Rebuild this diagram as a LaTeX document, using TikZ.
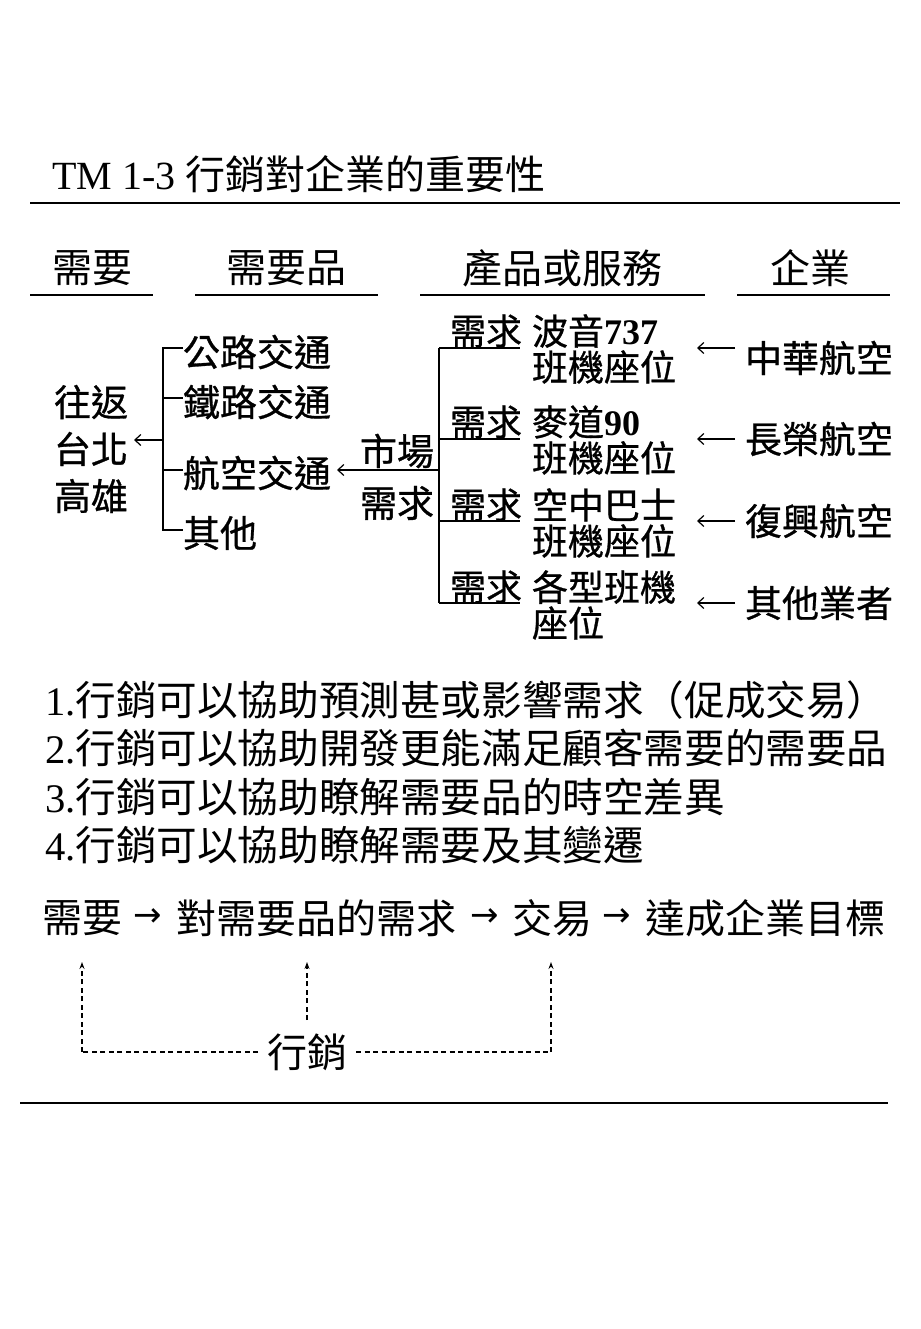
\documentclass[tikz,border=0pt]{standalone}
\usepackage{fontspec}
\setmainfont{Liberation Serif}
\newfontfamily\cjk{Noto Sans CJK TC}
\newfontfamily\cjkb[FakeBold=0.8]{Noto Sans CJK TC}
\newfontfamily\symf{DejaVu Sans}
\usetikzlibrary{arrows.meta}
\begin{document}
\begin{tikzpicture}[x=1pt,y=-1pt,
  every node/.style={inner sep=0pt,outer sep=0pt},
  big/.style={font=\cjk\fontsize{40}{40}\selectfont},
  item/.style={font=\cjkb\fontsize{37}{37}\selectfont},
  dem/.style={font=\cjkb\fontsize{36}{36}\selectfont,anchor=west},
  prod/.style={font=\cjkb\fontsize{36}{36}\selectfont,align=left,anchor=west},
  lst/.style={anchor=west,font=\fontsize{40.6}{40.6}\selectfont},
  flowarr/.style={font=\symf\fontsize{34}{34}\selectfont},
  rule/.style={line width=1.4pt},
  tree/.style={line width=1.2pt},
  arr/.style={line width=1.2pt,-{Straight Barb[length=6pt,width=11pt]}},
  dashline/.style={line width=1.2pt,dash pattern=on 5pt off 3.5pt},
  dasharr/.style={dashline,-{Stealth[length=7pt,width=5pt]}}
]
\useasboundingbox (0,0) rectangle (920,1329);
% title
\node[anchor=base west,font=\fontsize{40}{40}\selectfont] (title) at (52,190) {TM 1-3 {\cjk 行銷對企業的重要性}};
\coordinate (r1a) at (30,203); \coordinate (r1b) at (900,203);
\draw[rule] (r1a) -- (r1b);
% headers
\node[big] (h1) at (92,268) {需要};
\node[big] (h2) at (286,268) {需要品};
\node[big] (h3) at (562,268) {產品或服務};
\node[big] (h4) at (810,268) {企業};
\coordinate (u1a) at (30,295); \coordinate (u1b) at (153,295);
\coordinate (u2a) at (195,295); \coordinate (u2b) at (378,295);
\coordinate (u3a) at (420,295); \coordinate (u3b) at (705,295);
\coordinate (u4a) at (737,295); \coordinate (u4b) at (890,295);
\draw[rule] (u1a) -- (u1b); \draw[rule] (u2a) -- (u2b);
\draw[rule] (u3a) -- (u3b); \draw[rule] (u4a) -- (u4b);
% left
\node[align=center,font=\cjkb\fontsize{37}{47}\selectfont] (city) at (91,449) {往返\\台北\\高雄};
\coordinate (cityarr) at (134,440);
\coordinate (b1) at (163,348); \coordinate (b2) at (163,398);
\coordinate (b3) at (163,470); \coordinate (b4) at (163,530);
\coordinate (bm) at (163,440);
\node[item,anchor=west] (t1) at (183,352) {公路交通};
\node[item,anchor=west] (t2) at (183,402) {鐵路交通};
\node[item,anchor=west] (t3) at (183,473) {航空交通};
\node[item,anchor=west] (t4) at (183,533) {其他};
\draw[tree] (t1.west |- b1) -- (b1) -- (b4) -- (t4.west |- b4);
\draw[tree] (b2) -- (t2.west |- b2);
\draw[tree] (b3) -- (t3.west |- b3);
\draw[arr] (bm) -- (cityarr);
% market demand
\node[item] (m1) at (397,451) {市場};
\node[item] (m2) at (397,503) {需求};
\coordinate (v0) at (439,470);
\coordinate (v1) at (439,348); \coordinate (v2) at (439,439);
\coordinate (v3) at (439,521); \coordinate (v4) at (439,603);
\coordinate (a3) at (337,470);
\draw[arr] (v0) -- (a3);
\draw[tree] (v1) -- (v4);
\node[dem] (d1) at (450,331) {需求};
\node[dem] (d2) at (450,422) {需求};
\node[dem] (d3) at (450,505) {需求};
\node[dem] (d4) at (450,587) {需求};
\coordinate (e1) at (520,348); \coordinate (e2) at (520,439);
\coordinate (e3) at (520,521); \coordinate (e4) at (520,603);
\draw[tree] (v1) -- (e1); \draw[tree] (v2) -- (e2);
\draw[tree] (v3) -- (e3); \draw[tree] (v4) -- (e4);
% products
\node[prod] (p1) at (532,349) {波音{\rmfamily\bfseries 737}\\班機座位};
\node[prod] (p2) at (532,440) {麥道{\rmfamily\bfseries 90}\\班機座位};
\node[prod] (p3) at (532,523) {空中巴士\\班機座位};
\node[prod] (p4) at (532,605) {各型班機\\座位};
% companies
\node[item,anchor=west] (c1) at (745,358) {中華航空};
\node[item,anchor=west] (c2) at (745,439) {長榮航空};
\node[item,anchor=west] (c3) at (745,521) {復興航空};
\node[item,anchor=west] (c4) at (745,603) {其他業者};
\coordinate (k1) at (697,348); \coordinate (k2) at (697,439);
\coordinate (k3) at (697,521); \coordinate (k4) at (697,603);
\coordinate (j1) at (735,348); \coordinate (j2) at (735,439);
\coordinate (j3) at (735,521); \coordinate (j4) at (735,603);
\draw[arr] (j1) -- (k1);
\draw[arr] (j2) -- (k2);
\draw[arr] (j3) -- (k3);
\draw[arr] (j4) -- (k4);
% list
\node[lst] (l1) at (45,700) {1.{\cjk 行銷可以協助預測甚或影響需求（促成交易）}};
\node[lst] (l2) at (45,748) {2.{\cjk 行銷可以協助開發更能滿足顧客需要的需要品}};
\node[lst] (l3) at (45,797) {3.{\cjk 行銷可以協助瞭解需要品的時空差異}};
\node[lst] (l4) at (45,845) {4.{\cjk 行銷可以協助瞭解需要及其變遷}};
% flow
\node[big,anchor=west] (f1) at (42,918) {需要};
\node[flowarr] (g1) at (148,918) {→};
\node[big,anchor=west] (f2) at (176,918) {對需要品的需求};
\node[flowarr] (g2) at (485,918) {→};
\node[big,anchor=west] (f3) at (512,918) {交易};
\node[flowarr] (g3) at (617,918) {→};
\node[big,anchor=west] (f4) at (645,918) {達成企業目標};
% marketing
\node[big] (mk) at (307,1052) {行銷};
\coordinate (q1) at (82,962); \coordinate (q2) at (307,962); \coordinate (q3) at (551,962);
\coordinate (s1) at (82,1052); \coordinate (s3) at (551,1052);
\coordinate (s2) at (307,1020);
\draw[dashline] (mk.west) ++(-9,0) -- (s1);
\draw[dashline] (mk.east) ++(9,0) -- (s3);
\draw[dasharr] (s1) -- (q1);
\draw[dasharr] (s3) -- (q3);
\draw[dasharr] (s2) -- (q2);
\coordinate (r2a) at (20,1103); \coordinate (r2b) at (888,1103);
\draw[rule] (r2a) -- (r2b);
\end{tikzpicture}
\end{document}
